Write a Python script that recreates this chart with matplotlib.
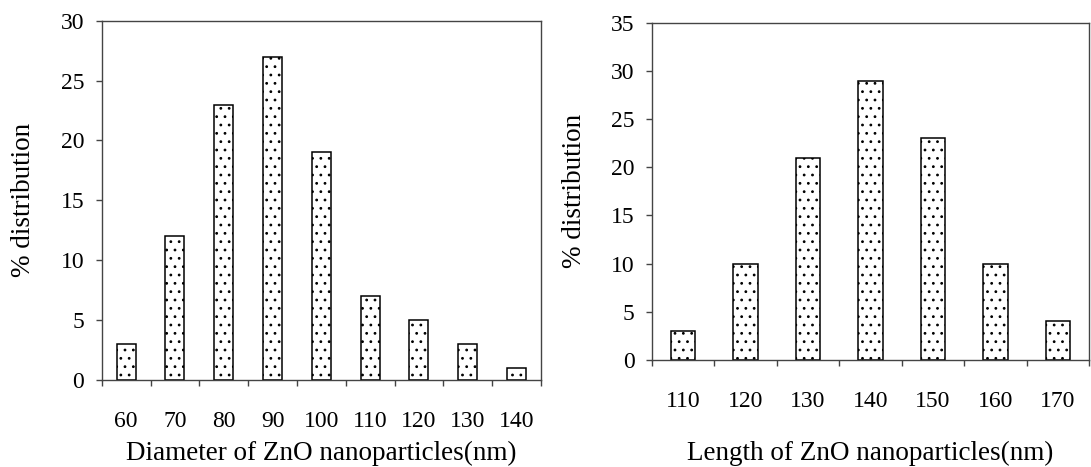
import numpy as np
import matplotlib
matplotlib.use("Agg")
import matplotlib.pyplot as plt

# Size distributions of ZnO nanoparticles
diameter_nm = ["60", "70", "80", "90", "100", "110", "120", "130", "140"]
diameter_pct = [3, 12, 23, 27, 19, 7, 5, 3, 1]

length_nm = ["110", "120", "130", "140", "150", "160", "170"]
length_pct = [3, 10, 21, 29, 23, 10, 4]

plt.rcParams["font.family"] = ["Liberation Serif", "DejaVu Serif"]
plt.rcParams["hatch.color"] = "#333333"
plt.rcParams["hatch.linewidth"] = 0.8

W, H = 1091, 467
fig = plt.figure(figsize=(W / 100, H / 100), dpi=100)


def px_axes(left, top, right, bottom):
    return fig.add_axes([left / W, 1 - bottom / H, (right - left) / W,
                         (bottom - top) / H])


ax1 = px_axes(101.7, 20.7, 541, 380)
ax2 = px_axes(652, 22.7, 1089, 360)

TICK_FS = 17
LABEL_FS = 19.5


def histogram_panel(ax, labels, values, ymax, xlabel, baseline_px, height_px):
    n = len(labels)
    x = np.arange(n)
    ax.bar(x, values, width=0.39, color="white", edgecolor="black",
           linewidth=1.1, hatch="..", zorder=2)
    ax.set_xlim(-0.5, n - 0.5)
    ax.set_ylim(0, ymax)
    ax.set_yticks(np.arange(0, ymax + 1, 5))
    # category boundaries carry the tick marks, centres carry the labels
    ax.set_xticks(np.arange(n + 1) - 0.5)
    ax.set_xticklabels([])
    ax.set_xticks(x, minor=True)
    ax.set_xticklabels(labels, minor=True)
    ax.tick_params(axis="x", which="major", direction="out", length=4.5,
                   width=1.0, colors="#444444")
    ax.tick_params(axis="x", which="minor", length=0, pad=22.5,
                   labelsize=TICK_FS, labelcolor="black")
    ax.tick_params(axis="y", direction="out", length=4.5, width=1.0,
                   pad=8, labelsize=TICK_FS, color="#444444")
    for s in ax.spines.values():
        s.set_linewidth(1.0)
        s.set_color("#444444")
    ax.set_ylabel("% distribution", fontsize=LABEL_FS, va="center")
    ax.yaxis.set_label_coords(-0.177, 0.5)
    ax.set_xlabel(xlabel, fontsize=LABEL_FS, va="baseline")
    ax.xaxis.set_label_coords(0.5, -(460 - baseline_px) / height_px)


histogram_panel(ax1, diameter_nm, diameter_pct, 30,
                "Diameter of ZnO nanoparticles(nm)", 380, 380 - 20.7)
histogram_panel(ax2, length_nm, length_pct, 35,
                "Length of ZnO nanoparticles(nm)", 360, 360 - 22.7)

fig.savefig("out.png", dpi=100)
